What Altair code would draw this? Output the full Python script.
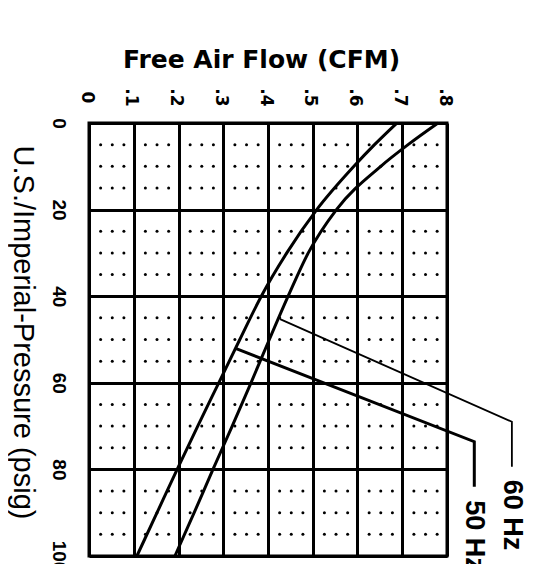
import altair as alt
import pandas as pd

# ---- data ----
flow_ticks = [0, 0.1, 0.2, 0.3, 0.4, 0.5, 0.6, 0.7, 0.8]
psig_ticks = [0, 20, 40, 60, 80, 100]

psig_pts = [0, 5, 10, 20, 30, 40, 50, 60, 70, 80, 90, 100]
flow_50hz = [0.688, 0.638, 0.592, 0.509, 0.442, 0.385, 0.337, 0.290, 0.243, 0.197, 0.152, 0.107]
flow_60hz = [0.780, 0.713, 0.652, 0.553, 0.490, 0.445, 0.403, 0.362, 0.320, 0.277, 0.235, 0.192]

# leader lines (flow, psig) from curve to label
lead_60_flow = [0.427, 0.945, 0.945]
lead_60_psig = [45.3, 69.0, 79.4]
lead_50_flow = [0.326, 0.861, 0.861]
lead_50_psig = [52.0, 73.6, 84.0]

label_text = ["60 Hz", "50 Hz"]
label_flow = [0.945, 0.861]
label_psig = [82.4, 87.1]

# dot pattern inside each grid cell (offsets within a cell)
dot_dx = [0.026, 0.052, 0.078]
dot_dy = [5, 10, 15]

# ---- tables ----
curves = pd.DataFrame(
    {"flow": flow_50hz + flow_60hz,
     "psig": psig_pts + psig_pts,
     "series": ["50 Hz"] * len(psig_pts) + ["60 Hz"] * len(psig_pts)}
)
lead60 = pd.DataFrame({"flow": lead_60_flow, "psig": lead_60_psig, "i": [0, 1, 2]})
lead50 = pd.DataFrame({"flow": lead_50_flow, "psig": lead_50_psig, "i": [0, 1, 2]})
labels = pd.DataFrame({"flow": label_flow, "psig": label_psig, "text": label_text})

dots = []
for cx in flow_ticks[:-1]:
    for cy in psig_ticks[:-1]:
        for dx in dot_dx:
            for dy in dot_dy:
                dots.append({"flow": cx + dx, "psig": cy + dy})
dots = pd.DataFrame(dots)

# ---- shared encodings ----
x_enc = alt.X(
    "flow:Q",
    scale=alt.Scale(domain=[0, 0.8], nice=False, zero=False),
    axis=alt.Axis(
        orient="top", values=flow_ticks,
        labelExpr="datum.value == 0 ? '0' : '.' + round(datum.value * 10)",
        labelAngle=90, labelAlign="center", labelBaseline="middle",
        labelPadding=26, labelOffset=-3, labelFlush=False, labelOverlap=False,
        labelFont="DejaVu Sans", labelFontWeight="bold", labelFontSize=17, labelColor="black",
        ticks=False, tickSize=0, domain=False,
        grid=True, gridColor="black", gridWidth=3, gridOpacity=1,
        title="Free Air Flow (CFM)", titleFont="DejaVu Sans", titleFontWeight="bold",
        titleFontSize=25, titleColor="black", titleX=172, titleY=-56,
        titleAlign="center", titleBaseline="alphabetic",
    ),
)
y_enc = alt.Y(
    "psig:Q",
    scale=alt.Scale(domain=[0, 100], nice=False, reverse=True, zero=False),
    axis=alt.Axis(
        orient="left", values=psig_ticks,
        labelAngle=90, labelAlign="center", labelBaseline="middle",
        labelPadding=31, labelFlush=False, labelOverlap=False,
        labelFont="Liberation Sans", labelFontWeight="bold", labelFontSize=19, labelColor="black",
        ticks=False, tickSize=0, domain=False,
        grid=True, gridColor="black", gridWidth=3, gridOpacity=1,
        title="U.S./Imperial-Pressure  (psig)", titleFont="Liberation Sans",
        titleFontWeight="normal", titleFontSize=29, titleColor="black",
        titleAngle=90, titleX=-67, titleY=209, titleAlign="center", titleBaseline="middle",
    ),
)

dot_layer = alt.Chart(dots).mark_circle(size=9, color="black", opacity=1).encode(x=x_enc, y=y_enc)

curve_layer = alt.Chart(curves).mark_line(
    color="black", strokeWidth=3, interpolate="monotone"
).encode(x=x_enc, y=y_enc, detail="series:N")

lead60_layer = alt.Chart(lead60).mark_line(
    color="black", strokeWidth=1.8, strokeJoin="miter"
).encode(x=x_enc, y=y_enc, order="i:Q")

lead50_layer = alt.Chart(lead50).mark_line(
    color="black", strokeWidth=3, strokeJoin="miter"
).encode(x=x_enc, y=y_enc, order="i:Q")

text_layer = alt.Chart(labels).mark_text(
    angle=90, align="left", baseline="middle", font="Liberation Sans",
    fontWeight="bold", fontSize=27, color="black"
).encode(x=x_enc, y=y_enc, text="text:N")

chart = (
    alt.layer(dot_layer, curve_layer, lead60_layer, lead50_layer, text_layer)
    .properties(
        width=358, height=433,
        autosize=alt.AutoSizeParams(type="none"),
        padding={"left": 81, "top": 115, "right": 87, "bottom": 8},
        background="white",
    )
    .configure_view(stroke="black", strokeWidth=3)
)

chart.save("out.html", embed_options={"renderer": "svg", "actions": False})
